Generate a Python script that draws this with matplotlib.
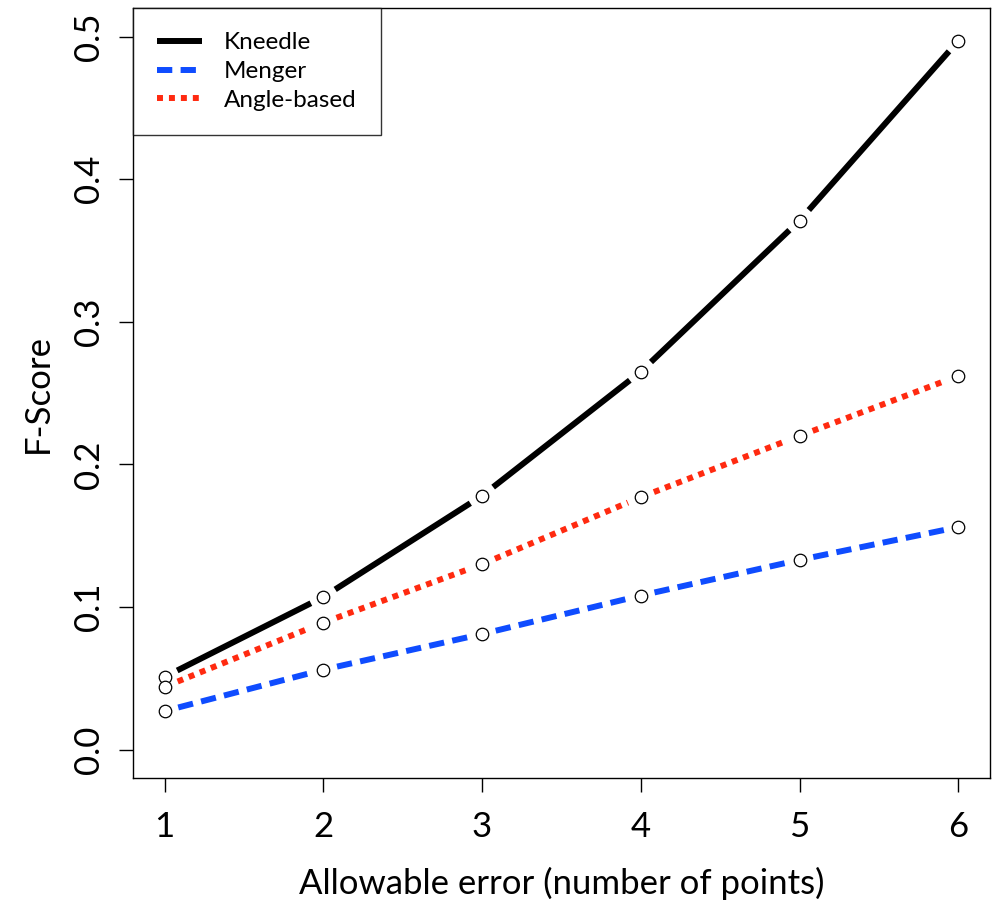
import numpy as np
import matplotlib
matplotlib.use('Agg')
import matplotlib.pyplot as plt
from matplotlib.lines import Line2D

plt.rcParams['font.family'] = ['Lato', 'DejaVu Sans']
plt.rcParams['lines.scale_dashes'] = False

# F-score against allowable error, one series per method
err = [1, 2, 3, 4, 5, 6]
kneedle = [0.051, 0.107, 0.178, 0.265, 0.371, 0.497]
menger = [0.027, 0.056, 0.081, 0.108, 0.133, 0.156]
angle = [0.044, 0.089, 0.130, 0.177, 0.220, 0.262]

series = [
  ('Kneedle', kneedle, 'black', '-', None),
  ('Menger', menger, '#0f4cff', '--', (11, 6)),
  ('Angle-based', angle, '#ff2a10', ':', (4.3, 4.3)),
]

fig = plt.figure(figsize=(9.92, 9.05), dpi=100)
ax = fig.add_axes([0.134, 0.1403, 0.864, 0.8508])
ax.set_xlim(0.8, 6.2)
ax.set_ylim(-0.02, 0.52)
fig.canvas.draw()

def gapped(ax, xs, ys, gap, **kw):
  # R type="b": segments stop short of each point
  tr = ax.transData
  inv = tr.inverted()
  for i in range(len(xs) - 1):
    p0 = tr.transform((xs[i], ys[i]))
    p1 = tr.transform((xs[i+1], ys[i+1]))
    d = p1 - p0
    L = np.hypot(d[0], d[1])
    if L <= 2 * gap:
      continue
    u = d / L
    a = inv.transform(p0 + u * gap)
    b = inv.transform(p1 - u * gap)
    line = Line2D([a[0], b[0]], [a[1], b[1]], solid_capstyle='butt',
                  dash_capstyle='butt', **kw)
    ax.add_line(line)

for name, vals, col, ls, dash in series:
  kw = dict(color=col, lw=4.3)
  if dash is not None:
    kw['dashes'] = dash
  gapped(ax, err, vals, 14, **kw)
  ax.plot(err, vals, 'o', ms=9, mfc='white', mec='black', mew=0.9, zorder=3)

handles = []
for name, vals, col, ls, dash in series:
  h = Line2D([0], [0], color=col, lw=4.3, solid_capstyle='butt', dash_capstyle='butt')
  if dash is not None:
    h.set_dashes(dash)
  handles.append(h)
leg = ax.legend(handles, [s[0] for s in series], loc='upper left', fontsize=17.5,
                frameon=True, fancybox=False, borderaxespad=0, handlelength=1.85,
                handletextpad=0.9, borderpad=1.0, labelspacing=0.32)
leg.get_frame().set_edgecolor('black')
leg.get_frame().set_linewidth(1)

ax.set_xticks(err)
ax.set_xticklabels(['1', '2', '3', '4', '5', '6'])
ax.set_yticks([0.0, 0.1, 0.2, 0.3, 0.4, 0.5])
ax.set_yticklabels(['0.0', '0.1', '0.2', '0.3', '0.4', '0.5'], rotation=90, va='center')
ax.tick_params(axis='both', direction='out', length=10, width=1, labelsize=25, colors='black')
ax.tick_params(axis='x', pad=14)
ax.tick_params(axis='y', pad=10)
for s in ax.spines.values():
  s.set_linewidth(1)
ax.set_xlabel('Allowable error (number of points)', fontsize=25, labelpad=17)
ax.set_ylabel('F-Score', fontsize=25, labelpad=14)

fig.savefig('out.png', dpi=100)
